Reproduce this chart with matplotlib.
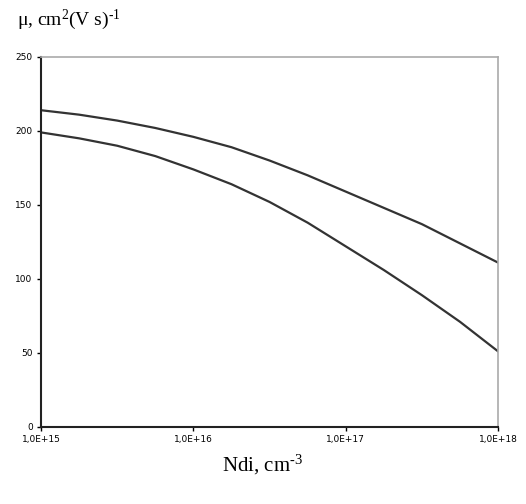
import numpy as np
import matplotlib
matplotlib.use("Agg")
import matplotlib.pyplot as plt

plt.rcParams["mathtext.fontset"] = "custom"
plt.rcParams["mathtext.rm"] = "Liberation Serif"
plt.rcParams["mathtext.it"] = "Liberation Serif:italic"

# концентрация доноров, cm^-3 (шаг 1/4 декады)
log_ndi = [15.0, 15.25, 15.5, 15.75, 16.0, 16.25, 16.5, 16.75, 17.0, 17.25, 17.5, 17.75, 18.0]
mu_upper = [214, 211, 207, 202, 196, 189, 180, 170, 159, 148, 137, 124, 111]
mu_lower = [199, 195, 190, 183, 174, 164, 152, 138, 122, 106, 89, 71, 51]

xticks = [1e15, 1e16, 1e17, 1e18]
xtick_labels = ["1,0E+15", "1,0E+16", "1,0E+17", "1,0E+18"]
yticks = [0, 50, 100, 150, 200, 250]

ndi = [10 ** v for v in log_ndi]

fig = plt.figure(figsize=(5.26, 5.04), dpi=100)
ax = fig.add_axes([0.078, 0.153, 0.869, 0.734])

ax.plot(ndi, mu_upper, color="#333333", lw=1.6)
ax.plot(ndi, mu_lower, color="#333333", lw=1.6)

ax.set_xscale("log")
ax.set_xlim(1e15, 1e18)
ax.set_ylim(0, 250)
ax.set_xticks(xticks)
ax.set_xticklabels(xtick_labels)
ax.minorticks_off()
ax.set_yticks(yticks)
ax.tick_params(direction="out", length=3, width=1, labelsize=6.5, pad=3)

for s in ["left", "bottom"]:
    ax.spines[s].set_color("#222222")
    ax.spines[s].set_linewidth(1.5)
for s in ["top", "right"]:
    ax.spines[s].set_color("#aaaaaa")
    ax.spines[s].set_linewidth(1.2)

fig.text(0.032, 0.96, r"μ, cm$\mathregular{^{2}}$(V s)$\mathregular{^{\text{-}1}}$",
         family="Liberation Serif", fontsize=14, va="center", ha="left")
fig.text(0.5, 0.077, r"Ndi, cm$\mathregular{^{\text{-}3}}$", family="Liberation Serif",
         fontsize=15, va="center", ha="center")

fig.savefig("out.png", dpi=100)
